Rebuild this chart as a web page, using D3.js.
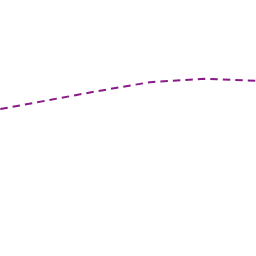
<!DOCTYPE html>
<html>
<head>
<meta charset="utf-8">
<script src="https://cdn.jsdelivr.net/npm/d3@7"></script>
<style>
  html, body { margin: 0; padding: 0; background: #fff; }
  .line { fill: none; stroke: #8a1a88; stroke-width: 2; stroke-dasharray: 7.5,5; }
</style>
</head>
<body>
<div id="chart"></div>
<script>
const steps = [0, 1, 2, 3, 4, 5];
const values = [56.5, 60.4, 64.3, 67.9, 69.2, 68.4];

const width = 256;
const height = 256;

const x = d3.scaleLinear()
    .domain([0, 5])
    .range([-12, 258]);

const y = d3.scaleLinear()
    .domain([0, 100])
    .range([height, 0]);

const svg = d3.select("#chart")
    .append("svg")
    .attr("width", width)
    .attr("height", height);

const valueline = d3.line()
    .x((d, i) => x(steps[i]))
    .y(d => y(d));

svg.append("path")
    .attr("class", "line")
    .attr("d", valueline(values));
</script>
</body>
</html>
